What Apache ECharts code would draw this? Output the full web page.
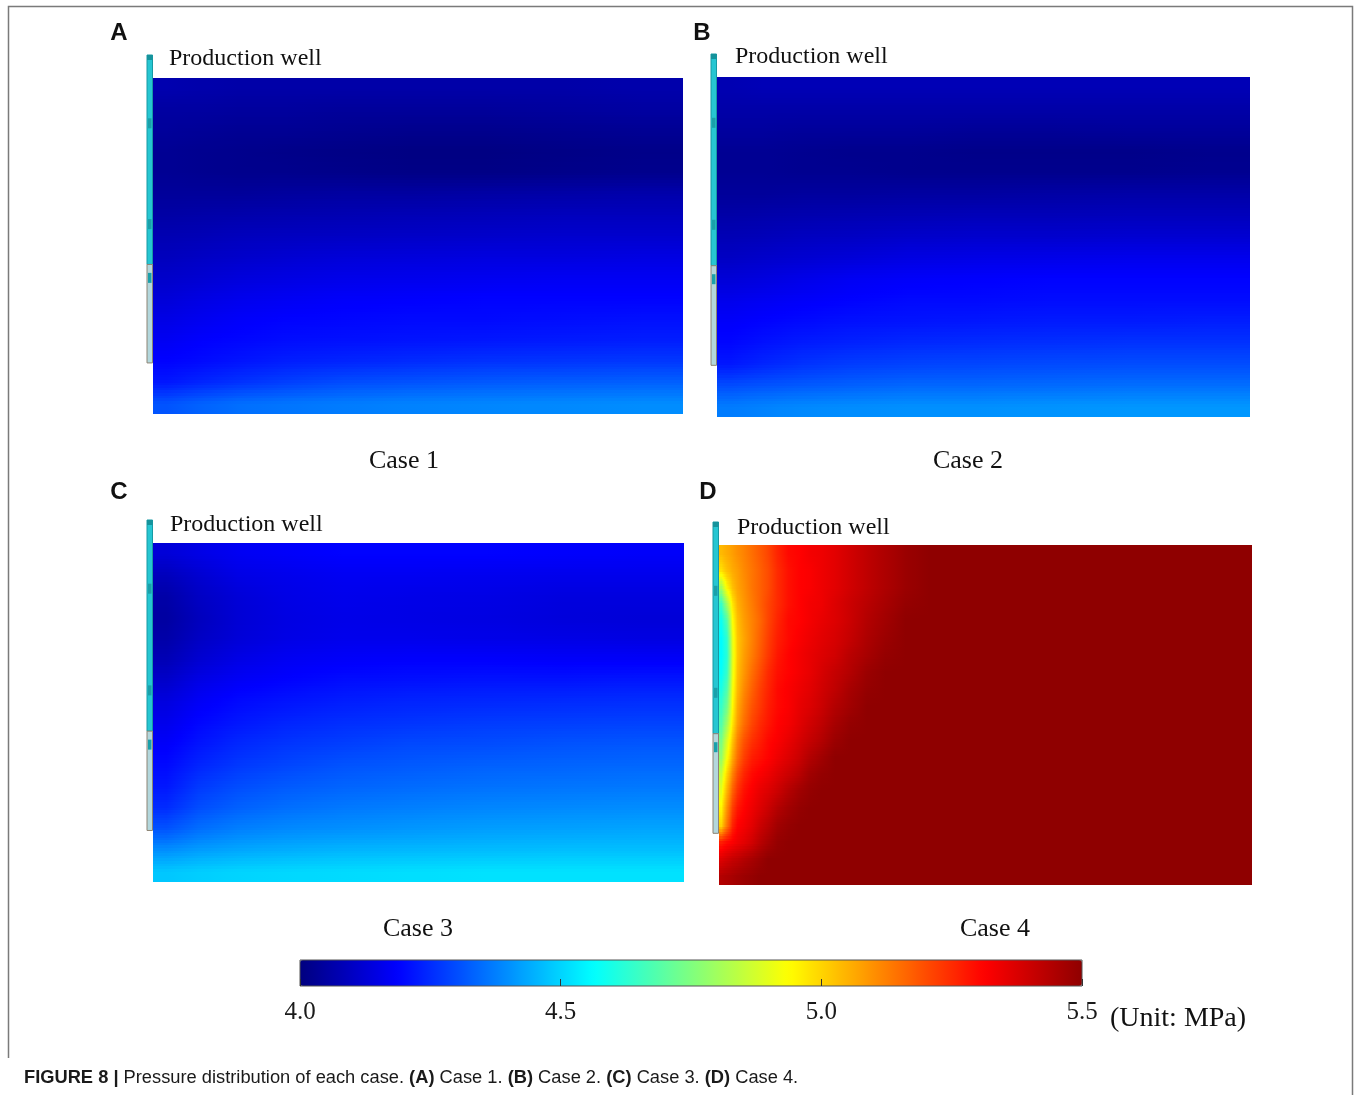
<!DOCTYPE html>
<html>
<head>
<meta charset="utf-8">
<script src="https://cdn.jsdelivr.net/npm/echarts/dist/echarts.min.js"></script>
<style>
html,body{margin:0;padding:0;background:#fff;}
#chart{width:1356px;height:1095px;}
</style>
</head>
<body>
<div id="chart"></div>
<script>
// ---------------- DATA ----------------
const panelLetters = ['A', 'B', 'C', 'D'];
const caseNames = ['Case 1', 'Case 2', 'Case 3', 'Case 4'];
const wellLabel = 'Production well';
const unitLabel = '(Unit: MPa)';
const pressureMin = 4.0;
const pressureMax = 5.5;
const pressureStep = 0.5;

// sample cell edges, % of width (x, from the well) and % of depth (y, from top)
const xEdgesABC = [0, 5, 12, 20, 30, 42, 55, 70, 85, 100];
const yEdgesABC = [0, 6.25, 12.5, 18.75, 25, 31.25, 37.5, 43.75, 50, 56.25, 62.5, 68.75, 75, 81.25, 87.5, 93.75, 100];
const xEdgesD = [0, 1, 2, 3, 4, 5.5, 7, 8.5, 10, 12, 14, 16, 18, 20.5, 23, 26, 29.5, 33, 37, 42, 100];
const yEdgesD = [0, 5, 10, 15, 20, 25, 30, 35, 40, 45, 50, 55, 60, 65, 70, 75, 80, 85, 90, 95, 100];

// pressure (MPa), rows top -> bottom
const case1 = [
  [4.07, 4.065, 4.06, 4.06, 4.06, 4.06, 4.06, 4.06, 4.065],
  [4.05, 4.05, 4.045, 4.045, 4.04, 4.04, 4.04, 4.045, 4.05],
  [4.04, 4.035, 4.03, 4.03, 4.025, 4.02, 4.02, 4.025, 4.03],
  [4.03, 4.025, 4.02, 4.015, 4.01, 4.005, 4.005, 4.01, 4.015],
  [4.03, 4.025, 4.02, 4.02, 4.015, 4.01, 4.01, 4.015, 4.02],
  [4.04, 4.04, 4.04, 4.045, 4.05, 4.05, 4.055, 4.06, 4.065],
  [4.055, 4.06, 4.065, 4.07, 4.075, 4.08, 4.085, 4.09, 4.09],
  [4.075, 4.08, 4.09, 4.095, 4.10, 4.105, 4.11, 4.115, 4.115],
  [4.09, 4.10, 4.11, 4.12, 4.13, 4.135, 4.14, 4.14, 4.145],
  [4.11, 4.12, 4.135, 4.145, 4.155, 4.16, 4.165, 4.17, 4.17],
  [4.13, 4.145, 4.16, 4.17, 4.18, 4.185, 4.19, 4.19, 4.19],
  [4.15, 4.165, 4.18, 4.19, 4.195, 4.20, 4.20, 4.205, 4.21],
  [4.17, 4.185, 4.195, 4.205, 4.21, 4.215, 4.22, 4.225, 4.23],
  [4.19, 4.20, 4.215, 4.23, 4.24, 4.25, 4.26, 4.265, 4.27],
  [4.22, 4.24, 4.26, 4.28, 4.30, 4.31, 4.32, 4.325, 4.33],
  [4.31, 4.33, 4.35, 4.36, 4.37, 4.38, 4.385, 4.39, 4.395]
];
const case2 = [
  [4.075, 4.08, 4.08, 4.08, 4.08, 4.08, 4.08, 4.08, 4.08],
  [4.06, 4.06, 4.06, 4.06, 4.06, 4.06, 4.06, 4.06, 4.06],
  [4.045, 4.045, 4.04, 4.04, 4.04, 4.035, 4.035, 4.04, 4.04],
  [4.03, 4.03, 4.025, 4.02, 4.02, 4.015, 4.015, 4.015, 4.02],
  [4.03, 4.03, 4.025, 4.025, 4.02, 4.02, 4.02, 4.02, 4.025],
  [4.04, 4.04, 4.045, 4.045, 4.05, 4.05, 4.055, 4.06, 4.06],
  [4.06, 4.065, 4.07, 4.075, 4.08, 4.085, 4.085, 4.09, 4.09],
  [4.08, 4.085, 4.095, 4.10, 4.11, 4.115, 4.115, 4.12, 4.12],
  [4.10, 4.11, 4.12, 4.13, 4.145, 4.15, 4.155, 4.16, 4.16],
  [4.13, 4.14, 4.155, 4.17, 4.18, 4.185, 4.19, 4.19, 4.19],
  [4.16, 4.17, 4.18, 4.19, 4.20, 4.20, 4.205, 4.205, 4.205],
  [4.18, 4.19, 4.20, 4.21, 4.215, 4.22, 4.225, 4.225, 4.23],
  [4.195, 4.21, 4.225, 4.235, 4.245, 4.25, 4.255, 4.26, 4.26],
  [4.22, 4.24, 4.26, 4.275, 4.285, 4.29, 4.295, 4.30, 4.30],
  [4.30, 4.31, 4.32, 4.33, 4.34, 4.34, 4.345, 4.35, 4.35],
  [4.37, 4.38, 4.39, 4.395, 4.40, 4.40, 4.405, 4.41, 4.41]
];
const case3 = [
  [4.13, 4.15, 4.17, 4.18, 4.19, 4.19, 4.19, 4.185, 4.18],
  [4.09, 4.12, 4.15, 4.16, 4.17, 4.17, 4.165, 4.16, 4.16],
  [4.06, 4.10, 4.13, 4.15, 4.16, 4.155, 4.15, 4.14, 4.14],
  [4.05, 4.09, 4.125, 4.145, 4.155, 4.15, 4.145, 4.135, 4.13],
  [4.06, 4.10, 4.13, 4.15, 4.16, 4.16, 4.155, 4.15, 4.145],
  [4.08, 4.12, 4.15, 4.17, 4.18, 4.185, 4.185, 4.18, 4.18],
  [4.11, 4.15, 4.175, 4.19, 4.205, 4.21, 4.215, 4.215, 4.22],
  [4.14, 4.175, 4.20, 4.215, 4.23, 4.24, 4.245, 4.25, 4.255],
  [4.16, 4.195, 4.22, 4.24, 4.255, 4.265, 4.275, 4.28, 4.285],
  [4.18, 4.215, 4.245, 4.265, 4.28, 4.295, 4.30, 4.31, 4.315],
  [4.20, 4.24, 4.27, 4.29, 4.31, 4.32, 4.33, 4.335, 4.34],
  [4.22, 4.27, 4.30, 4.32, 4.335, 4.345, 4.355, 4.36, 4.365],
  [4.25, 4.30, 4.33, 4.35, 4.365, 4.375, 4.385, 4.39, 4.395],
  [4.31, 4.35, 4.375, 4.39, 4.40, 4.41, 4.42, 4.425, 4.43],
  [4.40, 4.42, 4.435, 4.445, 4.455, 4.46, 4.465, 4.47, 4.47],
  [4.48, 4.49, 4.50, 4.505, 4.51, 4.515, 4.52, 4.52, 4.52]
];
const case4 = [
  [5.04, 5.06, 5.08, 5.10, 5.12, 5.15, 5.18, 5.21, 5.26, 5.30, 5.31, 5.33, 5.34, 5.36, 5.39, 5.42, 5.45, 5.48, 5.50, 5.50],
  [4.98, 5.03, 5.06, 5.08, 5.11, 5.14, 5.17, 5.20, 5.25, 5.29, 5.31, 5.32, 5.34, 5.36, 5.39, 5.42, 5.45, 5.48, 5.50, 5.50],
  [4.80, 4.95, 5.03, 5.07, 5.10, 5.14, 5.17, 5.20, 5.25, 5.29, 5.31, 5.32, 5.34, 5.36, 5.39, 5.42, 5.45, 5.48, 5.50, 5.50],
  [4.64, 4.80, 4.97, 5.05, 5.09, 5.13, 5.17, 5.21, 5.25, 5.29, 5.31, 5.33, 5.34, 5.37, 5.40, 5.43, 5.46, 5.49, 5.50, 5.50],
  [4.58, 4.68, 4.93, 5.03, 5.08, 5.12, 5.16, 5.21, 5.26, 5.30, 5.31, 5.33, 5.35, 5.37, 5.40, 5.44, 5.47, 5.50, 5.50, 5.50],
  [4.56, 4.63, 4.90, 5.02, 5.07, 5.12, 5.17, 5.22, 5.27, 5.30, 5.32, 5.34, 5.36, 5.38, 5.41, 5.45, 5.48, 5.50, 5.50, 5.50],
  [4.56, 4.62, 4.89, 5.02, 5.08, 5.13, 5.18, 5.23, 5.28, 5.31, 5.33, 5.35, 5.37, 5.39, 5.43, 5.46, 5.49, 5.50, 5.50, 5.50],
  [4.57, 4.64, 4.90, 5.03, 5.09, 5.15, 5.20, 5.25, 5.29, 5.31, 5.33, 5.35, 5.38, 5.41, 5.44, 5.48, 5.50, 5.50, 5.50, 5.50],
  [4.60, 4.68, 4.92, 5.04, 5.11, 5.17, 5.22, 5.26, 5.30, 5.32, 5.34, 5.36, 5.39, 5.42, 5.46, 5.49, 5.50, 5.50, 5.50, 5.50],
  [4.64, 4.73, 4.94, 5.06, 5.13, 5.19, 5.23, 5.27, 5.30, 5.32, 5.35, 5.37, 5.40, 5.44, 5.47, 5.50, 5.50, 5.50, 5.50, 5.50],
  [4.68, 4.80, 4.97, 5.08, 5.15, 5.21, 5.25, 5.28, 5.31, 5.33, 5.36, 5.39, 5.42, 5.46, 5.49, 5.50, 5.50, 5.50, 5.50, 5.50],
  [4.74, 4.88, 5.02, 5.12, 5.19, 5.24, 5.27, 5.30, 5.32, 5.35, 5.38, 5.41, 5.44, 5.48, 5.50, 5.50, 5.50, 5.50, 5.50, 5.50],
  [4.78, 4.93, 5.06, 5.15, 5.22, 5.27, 5.29, 5.31, 5.34, 5.37, 5.40, 5.44, 5.47, 5.50, 5.50, 5.50, 5.50, 5.50, 5.50, 5.50],
  [4.85, 5.00, 5.12, 5.20, 5.26, 5.30, 5.32, 5.34, 5.37, 5.40, 5.43, 5.47, 5.49, 5.50, 5.50, 5.50, 5.50, 5.50, 5.50, 5.50],
  [4.90, 5.05, 5.17, 5.24, 5.29, 5.32, 5.35, 5.37, 5.40, 5.44, 5.47, 5.49, 5.50, 5.50, 5.50, 5.50, 5.50, 5.50, 5.50, 5.50],
  [4.95, 5.10, 5.22, 5.28, 5.31, 5.34, 5.37, 5.40, 5.44, 5.47, 5.49, 5.50, 5.50, 5.50, 5.50, 5.50, 5.50, 5.50, 5.50, 5.50],
  [5.00, 5.14, 5.26, 5.31, 5.33, 5.36, 5.40, 5.43, 5.47, 5.49, 5.50, 5.50, 5.50, 5.50, 5.50, 5.50, 5.50, 5.50, 5.50, 5.50],
  [5.27, 5.30, 5.32, 5.34, 5.36, 5.39, 5.43, 5.46, 5.49, 5.50, 5.50, 5.50, 5.50, 5.50, 5.50, 5.50, 5.50, 5.50, 5.50, 5.50],
  [5.37, 5.39, 5.41, 5.42, 5.44, 5.46, 5.48, 5.50, 5.50, 5.50, 5.50, 5.50, 5.50, 5.50, 5.50, 5.50, 5.50, 5.50, 5.50, 5.50],
  [5.44, 5.45, 5.46, 5.47, 5.48, 5.49, 5.50, 5.50, 5.50, 5.50, 5.50, 5.50, 5.50, 5.50, 5.50, 5.50, 5.50, 5.50, 5.50, 5.50]
];

// ---------------- LAYOUT / STYLE ----------------
const jet = ['#00007f', '#0000ff', '#007fff', '#00ffff', '#7fff7f', '#ffff00', '#ff7f00', '#ff0000', '#8f0000'];
const panels = [
  {left: 153, top: 78, width: 530, height: 336, letter: [119, 33], wellText: [169, 59], caseText: [404, 461]},
  {left: 717, top: 77, width: 533, height: 340, letter: [702, 33], wellText: [735, 57], caseText: [968, 461]},
  {left: 153, top: 543, width: 531, height: 339, letter: [119, 492], wellText: [170, 525], caseText: [418, 929]},
  {left: 719, top: 545, width: 533, height: 340, letter: [708, 492], wellText: [737, 528], caseText: [995, 929]}
];
const fields = [
  {xe: xEdgesABC, ye: yEdgesABC, rows: case1},
  {xe: xEdgesABC, ye: yEdgesABC, rows: case2},
  {xe: xEdgesABC, ye: yEdgesABC, rows: case3},
  {xe: xEdgesD, ye: yEdgesD, rows: case4}
];
fields.forEach(f => {
  f.xc = f.xe.slice(1).map((e, i) => (e + f.xe[i]) / 2);
  f.yc = f.ye.slice(1).map((e, i) => (e + f.ye[i]) / 2);
});
const bar = {left: 300, top: 960, width: 782, height: 26};
const SERIF = '"Liberation Serif","Times New Roman",serif';
const SANS = '"Liberation Sans",Arial,Helvetica,sans-serif';

function cells(f) {
  const out = [];
  f.rows.forEach((row, j) => row.forEach((v, i) => {
    out.push([f.xe[i], f.xe[i + 1], f.ye[j], f.ye[j + 1], v]);
  }));
  return out;
}

// shading between the read samples (display only)
function locate(c, x) {
  if (x <= c[0]) return [0, 0];
  if (x >= c[c.length - 1]) return [c.length - 2, 1];
  let k = 0;
  while (k < c.length - 2 && x > c[k + 1]) k++;
  return [k, (x - c[k]) / (c[k + 1] - c[k])];
}
function sampleAt(f, x, y) {
  const [i, tx] = locate(f.xc, x);
  const [j, ty] = locate(f.yc, y);
  const r0 = f.rows[j], r1 = f.rows[j + 1];
  const a = r0[i] * (1 - tx) + r0[i + 1] * tx;
  const b = r1[i] * (1 - tx) + r1[i + 1] * tx;
  return a * (1 - ty) + b * ty;
}
function colorOf(v) {
  const t = Math.max(0, Math.min(1, (v - pressureMin) / (pressureMax - pressureMin)));
  return echarts.color.lerp(t, jet);
}

function renderCell(params, api) {
  const f = fields[params.seriesIndex];
  const xd0 = api.value(0), xd1 = api.value(1), yd0 = api.value(2), yd1 = api.value(3);
  const p0 = api.coord([xd0, yd0]);
  const p1 = api.coord([xd1, yd1]);
  const x0 = Math.round(Math.min(p0[0], p1[0])), x1 = Math.round(Math.max(p0[0], p1[0]));
  const y0 = Math.round(Math.min(p0[1], p1[1])), y1 = Math.round(Math.max(p0[1], p1[1]));
  const hpx = y1 - y0;
  const S = Math.max(1, Math.round(hpx / 2.5));
  const children = [];
  const fr = [0, 0.25, 0.5, 0.75, 1];
  for (let s = 0; s < S; s++) {
    const sy0 = Math.round(y0 + hpx * s / S), sy1 = Math.round(y0 + hpx * (s + 1) / S);
    const yd = yd0 + (yd1 - yd0) * (s + 0.5) / S;
    const stops = fr.map(t => ({offset: t, color: colorOf(sampleAt(f, xd0 + (xd1 - xd0) * t, yd))}));
    children.push({
      type: 'rect',
      shape: {x: x0, y: sy0, width: x1 - x0, height: sy1 - sy0},
      style: {fill: new echarts.graphic.LinearGradient(0, 0, 1, 0, stops), stroke: null}
    });
  }
  return {type: 'group', children: children};
}

const grids = [], xAxes = [], yAxes = [], series = [], graphics = [];
panels.forEach((p, i) => {
  grids.push({left: p.left, top: p.top, width: p.width, height: p.height, containLabel: false});
  xAxes.push({gridIndex: i, type: 'value', min: 0, max: 100, show: false});
  yAxes.push({gridIndex: i, type: 'value', min: 0, max: 100, inverse: true, show: false});
  series.push({
    type: 'custom', coordinateSystem: 'cartesian2d', xAxisIndex: i, yAxisIndex: i,
    encode: {x: [0, 1], y: [2, 3]}, renderItem: renderCell, data: cells(fields[i]),
    silent: true, clip: true
  });

  // production well schematic
  const wx = p.left - 6, wTop = p.top - 23;
  const cyanEnd = p.top + 0.555 * p.height, wBot = p.top + 0.848 * p.height;
  graphics.push({type: 'rect', z: 50, shape: {x: wx, y: wTop, width: 5.5, height: cyanEnd - wTop},
    style: {fill: '#26c6d2', stroke: '#169aa4', lineWidth: 1}});
  graphics.push({type: 'rect', z: 51, shape: {x: wx, y: wTop, width: 5.5, height: 5},
    style: {fill: '#15939c'}});
  [0.12, 0.42, 0.58].forEach(fr => {
    graphics.push({type: 'rect', z: 51, shape: {x: wx + 1, y: p.top + fr * p.height, width: 3.5, height: 10},
      style: {fill: '#1aa0aa'}});
  });
  graphics.push({type: 'rect', z: 50, shape: {x: wx, y: cyanEnd, width: 5.5, height: wBot - cyanEnd},
    style: {fill: '#b3d7dc', stroke: '#8d8474', lineWidth: 1}});

  graphics.push({type: 'text', z: 60, x: p.letter[0], y: p.letter[1],
    style: {text: panelLetters[i], font: 'bold 24px ' + SANS, fill: '#111', align: 'center', verticalAlign: 'middle'}});
  graphics.push({type: 'text', z: 60, x: p.wellText[0], y: p.wellText[1],
    style: {text: wellLabel, font: '24px ' + SERIF, fill: '#111', align: 'left', verticalAlign: 'middle'}});
  graphics.push({type: 'text', z: 60, x: p.caseText[0], y: p.caseText[1],
    style: {text: caseNames[i], font: '26px ' + SERIF, fill: '#111', align: 'center', verticalAlign: 'middle'}});
});

// colorbar axis grid
grids.push({left: bar.left, top: bar.top, width: bar.width, height: bar.height, show: true,
  borderColor: '#555', borderWidth: 1, backgroundColor: 'transparent', z: 10});
xAxes.push({gridIndex: 4, type: 'value', min: pressureMin, max: pressureMax, interval: pressureStep,
  position: 'bottom', z: 10,
  axisLine: {show: false}, splitLine: {show: false},
  axisTick: {show: true, inside: true, length: 7, lineStyle: {color: '#333', width: 1}},
  axisLabel: {margin: 14, color: '#1a1a1a', fontFamily: SERIF, fontSize: 25,
    formatter: v => v.toFixed(1)}});
yAxes.push({gridIndex: 4, type: 'value', show: false, min: 0, max: 1});

graphics.push({type: 'text', z: 60, x: 1110, y: 1019,
  style: {text: unitLabel, font: '28px ' + SERIF, fill: '#111', align: 'left', verticalAlign: 'middle'}});

// caption
graphics.push({type: 'text', z: 60, x: 24, y: 1078,
  style: {
    text: '{b|FIGURE 8 |} Pressure distribution of each case. {b|(A)} Case 1. {b|(B)} Case 2. {b|(C)} Case 3. {b|(D)} Case 4.',
    font: '18.3px ' + SANS, fill: '#1a1a1a', verticalAlign: 'middle', align: 'left',
    rich: {b: {fontWeight: 'bold', fontSize: 18.3, fontFamily: SANS, fill: '#1a1a1a'}}
  }});

// frame
graphics.push({type: 'polyline', z: 5, shape: {points: [[8.5, 1058], [8.5, 6.5], [1352.5, 6.5], [1352.5, 1095]]},
  style: {stroke: '#7a7a7a', lineWidth: 1.5, fill: null}});

const chart = echarts.init(document.getElementById('chart'), null, {renderer: 'canvas'});
chart.setOption({
  backgroundColor: '#ffffff',
  animation: false,
  grid: grids,
  xAxis: xAxes,
  yAxis: yAxes,
  visualMap: {
    type: 'continuous', min: pressureMin, max: pressureMax, dimension: 4,
    seriesIndex: [0, 1, 2, 3], orient: 'horizontal',
    left: bar.left, top: bar.top, itemWidth: bar.height, itemHeight: bar.width,
    padding: 0, calculable: false, hoverLink: false, realtime: false, text: null,
    inRange: {color: jet}
  },
  series: series,
  graphic: graphics
});
</script>
</body>
</html>
